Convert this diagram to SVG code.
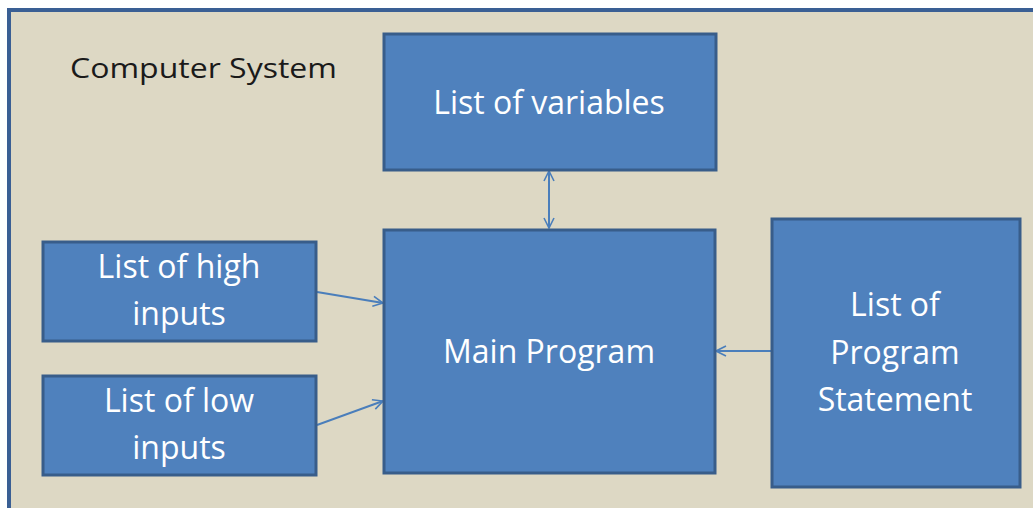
<svg xmlns="http://www.w3.org/2000/svg" width="1033" height="508" viewBox="0 0 1033 508">
<defs>
<style>
.box{fill:#4f81bd;stroke:#385d8a;stroke-width:3}
.lbl{fill:#ffffff;font-family:"Open Sans","Liberation Sans",sans-serif;font-size:32px;text-anchor:middle}
.conn{stroke:#4a7ebb;stroke-width:2;fill:none}
</style>
<marker id="ah" viewBox="0 0 12 12" refX="11" refY="6" markerWidth="12" markerHeight="12" markerUnits="userSpaceOnUse" orient="auto-start-reverse">
<path d="M1,1 L11,6 L1,11" fill="none" stroke="#4a7ebb" stroke-width="1.6"/>
</marker>
</defs>
<rect x="0" y="0" width="1033" height="508" fill="#ffffff"/>
<rect x="9" y="10" width="1030" height="500" fill="#ddd8c4" stroke="#3a5f94" stroke-width="4"/>
<text x="70" y="78" font-family="Open Sans, Liberation Sans, sans-serif" font-size="28" fill="#1a1a1a" textLength="267" lengthAdjust="spacingAndGlyphs">Computer System</text>
<g id="connectors">
<line class="conn" x1="317" y1="292" x2="383" y2="303" marker-end="url(#ah)"/>
<line class="conn" x1="317" y1="425" x2="383" y2="401" marker-end="url(#ah)"/>
<line class="conn" x1="549" y1="171" x2="549" y2="228" marker-start="url(#ah)" marker-end="url(#ah)"/>
<line class="conn" x1="771" y1="351" x2="716" y2="351" marker-end="url(#ah)"/>
</g>
<g id="variables">
<rect class="box" x="384" y="34" width="332" height="136"/>
<text class="lbl" x="549" y="114">List of variables</text>
</g>
<g id="main">
<rect class="box" x="384" y="230" width="331" height="243"/>
<text class="lbl" x="549" y="363">Main Program</text>
</g>
<g id="high">
<rect class="box" x="43" y="242" width="273" height="99"/>
<text class="lbl" x="179" y="278">List of high</text>
<text class="lbl" x="179" y="325">inputs</text>
</g>
<g id="low">
<rect class="box" x="43" y="376" width="273" height="99"/>
<text class="lbl" x="179" y="412">List of low</text>
<text class="lbl" x="179" y="459">inputs</text>
</g>
<g id="statement">
<rect class="box" x="772" y="219" width="248" height="268"/>
<text class="lbl" x="895" y="316">List of</text>
<text class="lbl" x="895" y="364">Program</text>
<text class="lbl" x="895" y="411">Statement</text>
</g>
</svg>
